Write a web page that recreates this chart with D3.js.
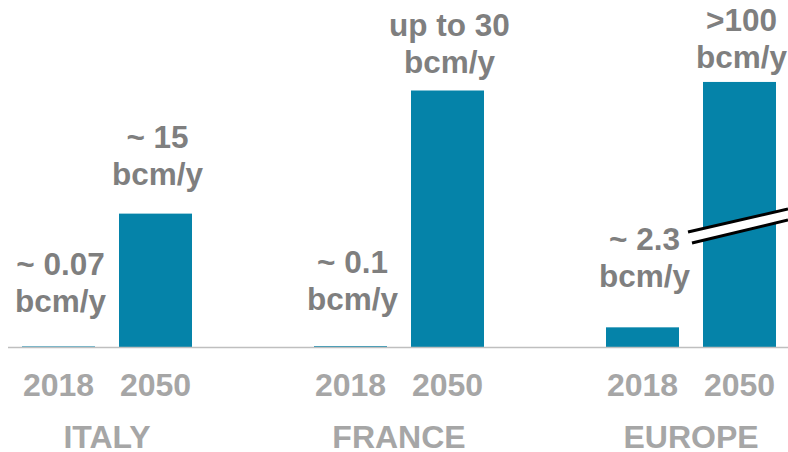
<!doctype html>
<html>
<head>
<meta charset="utf-8">
<script src="https://d3js.org/d3.v7.min.js"></script>
<style>
  body { margin: 0; background: #fff; }
  text { font-family: "Liberation Sans", Arial, sans-serif; font-weight: bold; }
  .val { fill: #7f7f7f; font-size: 31.5px; }
  .year { fill: #a6a6a6; font-size: 32px; }
  .country { fill: #a6a6a6; font-size: 32px; }
</style>
</head>
<body>
<script>
// data
var countries = ["ITALY", "FRANCE", "EUROPE"];
var years = ["2018", "2050"];
var values2018 = [0.07, 0.1, 2.3];
var values2050 = [15.6, 30, 100];
var labels2018 = [["~ 0.07", "bcm/y"], ["~ 0.1", "bcm/y"], ["~ 2.3", "bcm/y"]];
var labels2050 = [["~ 15", "bcm/y"], ["up to 30", "bcm/y"], [">100", "bcm/y"]];

// layout
var width = 788, height = 452;
var baseY = 347;
var breakCap = 31;          // bars above this are drawn cut (broken axis)
var gap2018 = [34, 36, 40];  // space from bar top to label baseline
var gap2050 = [29, 18, 14];
var lineH = 37;

var rows = [];
countries.forEach(function (c, i) {
  rows.push({ c: c, year: "2018", v: values2018[i], lab: labels2018[i], gap: gap2018[i] });
  rows.push({ c: c, year: "2050", v: values2050[i], lab: labels2050[i], gap: gap2050[i] });
});

var svg = d3.select("body").append("svg").attr("width", width).attr("height", height);

var x0 = d3.scaleBand().domain(countries).range([-39, 837]);
var x1 = d3.scaleBand().domain(years).range([61, 231]).paddingInner(0.2474).paddingOuter(0);
var y = d3.scaleLinear().domain([0, 30]).range([baseY, 90.5]);

function bx(d) { return x0(d.c) + x1(d.year); }
function topY(d) { return y(Math.min(d.v, breakCap)); }

svg.selectAll("rect.bar").data(rows).enter().append("rect")
  .attr("class", "bar")
  .attr("x", bx)
  .attr("y", topY)
  .attr("width", x1.bandwidth())
  .attr("height", function (d) { return baseY - topY(d); })
  .attr("fill", "#0583a9");

// baseline
svg.append("line")
  .attr("x1", 8).attr("x2", width)
  .attr("y1", baseY + 0.5).attr("y2", baseY + 0.5)
  .attr("stroke", "#bfbfbf").attr("stroke-width", 1.5);

// value labels
var lab = svg.selectAll("text.val").data(rows).enter().append("text")
  .attr("class", "val")
  .attr("text-anchor", "middle")
  .attr("x", function (d) { return bx(d) + x1.bandwidth() / 2 + 2; })
  .attr("y", function (d) { return topY(d) - d.gap - lineH; });
lab.selectAll("tspan").data(function (d) { return d.lab; }).enter().append("tspan")
  .attr("x", function () { var p = d3.select(this.parentNode).datum(); return bx(p) + x1.bandwidth() / 2 + 2; })
  .attr("dy", function (d, i) { return i === 0 ? 0 : lineH; })
  .text(function (d) { return d; });

// axis break on the tall Europe bar
var big = rows.filter(function (d) { return d.v > breakCap; })[0];
var bx0 = bx(big) - 15, bx1 = width;
var yb = y(breakCap) + 150;
var slope = -0.23;
svg.append("polygon")
  .attr("points", [
    [bx0, yb], [bx1, yb + slope * (bx1 - bx0)],
    [bx1, yb + slope * (bx1 - bx0) + 11], [bx0 + 4, yb + 11]
  ].map(function (p) { return p.join(","); }).join(" "))
  .attr("fill", "#fff");
svg.append("line")
  .attr("x1", bx0).attr("y1", yb)
  .attr("x2", bx1).attr("y2", yb + slope * (bx1 - bx0))
  .attr("stroke", "#000").attr("stroke-width", 3);
svg.append("line")
  .attr("x1", bx0 + 4).attr("y1", yb + 11)
  .attr("x2", bx1).attr("y2", yb + slope * (bx1 - bx0) + 11)
  .attr("stroke", "#000").attr("stroke-width", 3);

// year labels
svg.selectAll("text.year").data(rows).enter().append("text")
  .attr("class", "year")
  .attr("text-anchor", "middle")
  .attr("x", function (d) { return bx(d) + x1.bandwidth() / 2; })
  .attr("y", 396)
  .text(function (d) { return d.year; });

// country labels
svg.selectAll("text.country").data(countries).enter().append("text")
  .attr("class", "country")
  .attr("text-anchor", "middle")
  .attr("x", function (d) { return x0(d) + x0.bandwidth() / 2; })
  .attr("y", 448)
  .text(function (d) { return d; });
</script>
</body>
</html>
